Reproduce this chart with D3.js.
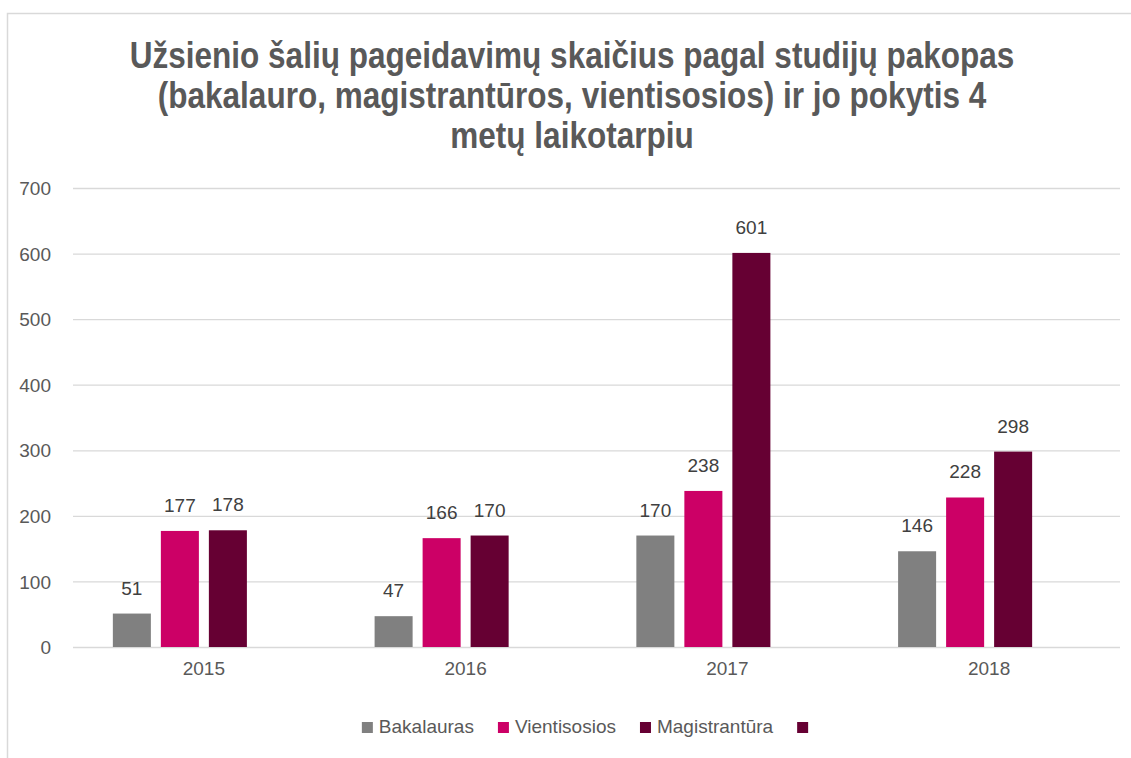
<!DOCTYPE html>
<html>
<head>
<meta charset="utf-8">
<script src="https://cdn.jsdelivr.net/npm/d3@7"></script>
<style>
    body { margin: 0; background: #ffffff; }
    svg { display: block; }
    .title { font-family: "Liberation Sans Narrow", "Liberation Sans", sans-serif; font-weight: bold; fill: #595959; }
    .tick text, .valueLabel, .legendText { font-family: "Liberation Sans Narrow", "Liberation Sans", sans-serif; }
</style>
</head>
<body>
<script>
// grouped bar chart - foreign country requests by study level

// chart data
var years = ["2015", "2016", "2017", "2018"];
var seriesNames = ["Bakalauras", "Vientisosios", "Magistrantūra", ""];
var bakalauras = [51, 47, 170, 146];
var vientisosios = [177, 166, 238, 228];
var magistrantura = [178, 170, 601, 298];
var emptySeries = [null, null, null, null];
var yTicks = [0, 100, 200, 300, 400, 500, 600, 700];
var titleLines = [
    "Užsienio šalių pageidavimų skaičius pagal studijų pakopas",
    "(bakalauro, magistrantūros, vientisosios) ir jo pokytis 4",
    "metų laikotarpiu"
];

window.onload = function(){

    var w = 1131,
        h = 758;

    var colors = ["#808080", "#CC0066", "#660033", "#660033"];
    var allSeries = [bakalauras, vientisosios, magistrantura, emptySeries];

    var svg = d3.select("body")
        .append("svg")
        .attr("width", w)
        .attr("height", h);

    // chart border (top and left edges visible)
    svg.append("path")
        .attr("d", "M7.5," + h + "V13.5H" + w)
        .attr("fill", "none")
        .attr("stroke", "#d9d9d9")
        .attr("stroke-width", 1.5);

    // title - condensed look: squeeze first line to about 885px wide
    var title = svg.append("text")
        .attr("class", "title")
        .attr("text-anchor", "middle")
        .style("font-size", "37px");

    title.selectAll("tspan")
        .data(titleLines)
        .enter()
        .append("tspan")
        .attr("x", 0)
        .attr("y", function(d, i){ return 68 + i * 40; })
        .text(function(d){ return d; });

    var firstW = title.select("tspan").node().getComputedTextLength();
    var sx = 885 / firstW;
    title.attr("transform", "translate(572,0) scale(" + sx + ",1)");

    // scales
    var plotLeft = 73, plotRight = 1120;

    var y = d3.scaleLinear()
        .domain([0, 700])
        .range([647, 188]);

    var x0 = d3.scaleBand()
        .domain(years)
        .range([plotLeft, plotRight]);

    var x1 = d3.scaleBand()
        .domain(d3.range(seriesNames.length))
        .range([0, x0.bandwidth()])
        .paddingInner(0.208)
        .paddingOuter(0.83);

    // gridlines + y labels
    var yAxis = svg.append("g")
        .attr("transform", "translate(" + plotLeft + ",0)")
        .call(d3.axisLeft(y)
            .tickValues(yTicks)
            .tickSize(-(plotRight - plotLeft))
            .tickPadding(22));

    yAxis.select(".domain").remove();
    yAxis.selectAll(".tick line")
        .attr("stroke", "#d9d9d9")
        .attr("stroke-width", 1.3);
    yAxis.selectAll(".tick text")
        .attr("fill", "#595959")
        .style("font-size", "19px")
        .attr("dy", "0.35em");

    // x labels
    var xAxis = svg.append("g")
        .attr("transform", "translate(0," + y(0) + ")")
        .call(d3.axisBottom(x0).tickSize(0).tickPadding(28));

    xAxis.select(".domain").remove();
    xAxis.selectAll(".tick text")
        .attr("fill", "#595959")
        .style("font-size", "19px")
        .attr("dy", "0");

    // bars
    var groups = svg.selectAll(".group")
        .data(years)
        .enter()
        .append("g")
        .attr("class", "group")
        .attr("transform", function(d){
            return "translate(" + x0(d) + ",0)";
        });

    function groupValues(d, yi){
        return allSeries.map(function(s, si){
            return { series: si, value: s[yi] };
        }).filter(function(d){ return d.value != null; });
    }

    groups.selectAll("rect")
        .data(groupValues)
        .enter()
        .append("rect")
        .attr("x", function(d){ return x1(d.series); })
        .attr("width", x1.bandwidth())
        .attr("y", function(d){ return y(d.value); })
        .attr("height", function(d){ return y(0) - y(d.value); })
        .style("fill", function(d){ return colors[d.series]; });

    // value labels
    groups.selectAll(".valueLabel")
        .data(groupValues)
        .enter()
        .append("text")
        .attr("class", "valueLabel")
        .attr("text-anchor", "middle")
        .attr("x", function(d){ return x1(d.series) + x1.bandwidth() / 2; })
        .attr("y", function(d){ return y(d.value) - 19; })
        .attr("fill", "#404040")
        .style("font-size", "19px")
        .text(function(d){ return d.value; });

    // legend
    var legend = svg.append("g");
    var items = legend.selectAll(".legendItem")
        .data(seriesNames)
        .enter()
        .append("g")
        .attr("class", "legendItem");

    items.append("rect")
        .attr("width", 11)
        .attr("height", 11)
        .attr("y", 722)
        .style("fill", function(d, i){ return colors[i]; });

    items.append("text")
        .attr("class", "legendText")
        .attr("x", 17)
        .attr("y", 733)
        .attr("fill", "#595959")
        .style("font-size", "19px")
        .text(function(d){ return d; });

    var offset = 0;
    var positions = [];
    items.each(function(){
        var tw = d3.select(this).select("text").node().getComputedTextLength();
        positions.push(offset);
        offset += 17 + tw + 24;
    });
    var totalW = offset - 24 - 17 + 11;
    var startX = 585 - totalW / 2;
    items.attr("transform", function(d, i){
        return "translate(" + (startX + positions[i]) + ",0)";
    });
};
</script>
</body>
</html>
